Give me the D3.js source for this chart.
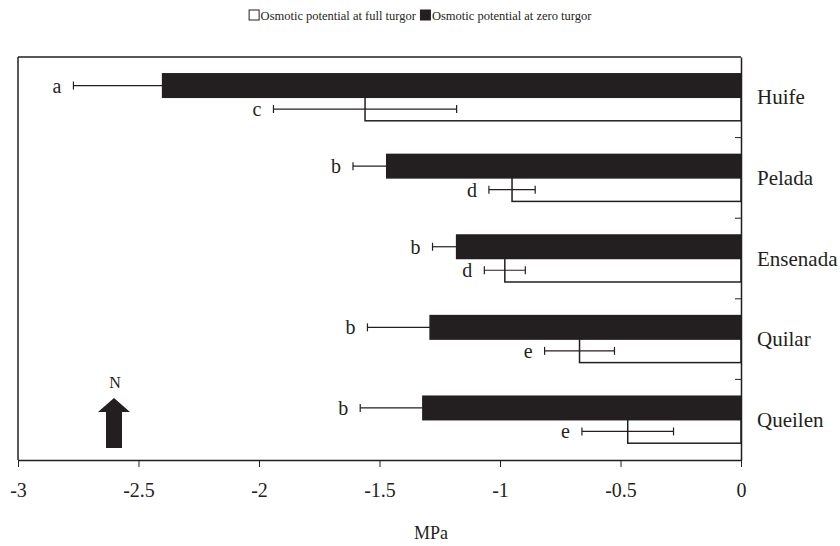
<!DOCTYPE html>
<html><head><meta charset="utf-8">
<script src="https://cdn.jsdelivr.net/npm/d3@7"></script>
<style>
html,body{margin:0;padding:0;background:#fff;}
text{font-family:"Liberation Serif","Times New Roman",serif;fill:#231f20;}
</style></head>
<body><svg id="c" width="840" height="546"></svg>
<script>
// ---- data ----
const categories = ["Huife", "Pelada", "Ensenada", "Quilar", "Queilen"];
const seriesNames = ["Osmotic potential at zero turgor", "Osmotic potential at full turgor"];
const zeroTurgor = [-2.40, -1.47, -1.18, -1.29, -1.32];
const zeroTurgorErr = [0.37, 0.14, 0.10, 0.26, 0.26];
const zeroLetters = ["a", "b", "b", "b", "b"];
const fullTurgor = [-1.56, -0.95, -0.98, -0.67, -0.47];
const fullTurgorErr = [0.38, 0.096, 0.085, 0.145, 0.19];
const fullLetters = ["c", "d", "d", "e", "e"];
const xTicks = [-3, -2.5, -2, -1.5, -1, -0.5, 0];
const legendLabels = ["Osmotic potential at full turgor", "Osmotic potential at zero turgor"];
const xTitle = "MPa";

const ink = "#231f20";
const svg = d3.select("#c");
const L = 18, R = 741, T = 57, B = 460;

const x = d3.scaleLinear().domain([-3, 0]).range([L, R]);
const y0 = d3.scaleBand().domain(categories).range([T, B]).padding(0);
const y1 = d3.scaleBand().domain(seriesNames).range([0, y0.bandwidth()]).paddingInner(0).paddingOuter(0.715);

// frame
svg.append("line").attr("x1", L).attr("x2", R).attr("y1", T).attr("y2", T).attr("stroke", ink).attr("stroke-width", 1.5);
svg.append("line").attr("x1", L).attr("x2", L).attr("y1", T).attr("y2", B).attr("stroke", ink).attr("stroke-width", 1.5);

const rows = categories.map((c, i) => ({
  cat: c,
  items: [
    {s: seriesNames[0], v: zeroTurgor[i], e: zeroTurgorErr[i], l: zeroLetters[i], fill: ink},
    {s: seriesNames[1], v: fullTurgor[i], e: fullTurgorErr[i], l: fullLetters[i], fill: "#fff"}
  ]
}));

const g = svg.selectAll("g.cat").data(rows).join("g").attr("class", "cat")
  .attr("transform", d => `translate(0,${y0(d.cat)})`);

const it = g.selectAll("g.it").data(d => d.items).join("g").attr("class", "it");
it.append("rect")
  .attr("x", d => x(d.v)).attr("width", d => x(0) - x(d.v))
  .attr("y", d => y1(d.s)).attr("height", y1.bandwidth())
  .attr("fill", d => d.fill).attr("stroke", ink).attr("stroke-width", 1.5);

const cy = d => y1(d.s) + y1.bandwidth() / 2;
it.append("line").attr("x1", d => x(d.v - d.e)).attr("x2", d => d.fill === ink ? x(d.v) : x(d.v + d.e))
  .attr("y1", cy).attr("y2", cy).attr("stroke", ink).attr("stroke-width", 1.2);
it.append("line").attr("x1", d => x(d.v - d.e)).attr("x2", d => x(d.v - d.e))
  .attr("y1", d => cy(d) - 4).attr("y2", d => cy(d) + 4).attr("stroke", ink).attr("stroke-width", 1.2);
it.filter(d => d.fill !== ink).append("line").attr("x1", d => x(d.v + d.e)).attr("x2", d => x(d.v + d.e))
  .attr("y1", d => cy(d) - 4).attr("y2", d => cy(d) + 4).attr("stroke", ink).attr("stroke-width", 1.2);
it.append("text").attr("x", d => x(d.v - d.e) - 12).attr("y", d => cy(d) + 7)
  .attr("text-anchor", "end").attr("font-size", 20).text(d => d.l);

// x axis
const xa = svg.append("g").attr("transform", `translate(0,${B})`)
  .call(d3.axisBottom(x).tickValues(xTicks).tickFormat(d => String(d)).tickSize(7).tickSizeOuter(0));
xa.select(".domain").attr("stroke", ink).attr("stroke-width", 1.5);
xa.selectAll(".tick line").attr("stroke", ink).attr("stroke-width", 1);
xa.selectAll(".tick text").attr("y", 37).attr("dy", 0).attr("font-size", 20)
  .attr("font-family", '"Liberation Serif","Times New Roman",serif').attr("fill", ink);

// right y axis (at 0)
const ya = svg.append("g").attr("transform", `translate(${R},0)`)
  .call(d3.axisLeft(y0).tickSize(0).tickFormat(""));
ya.select(".domain").attr("stroke", ink).attr("stroke-width", 1.5);
ya.selectAll(".tick").remove();
const bounds = categories.slice(1).map(c => y0(c));
svg.selectAll("line.yt").data(bounds).join("line").attr("class", "yt")
  .attr("x1", R - 6).attr("x2", R).attr("y1", d => d).attr("y2", d => d).attr("stroke", ink).attr("stroke-width", 1);

svg.selectAll("text.cl").data(categories).join("text").attr("class", "cl")
  .attr("x", R + 16).attr("y", d => y0(d) + y0.bandwidth() / 2 + 7)
  .attr("font-size", 21).text(d => d);

// x title
svg.append("text").attr("x", 431).attr("y", 539).attr("text-anchor", "middle").attr("font-size", 18).text(xTitle);

// legend
const lg = svg.append("g");
let cx = 0;
const fills = ["#fff", ink];
legendLabels.forEach((lab, i) => {
  lg.append("rect").attr("x", cx + 0.5).attr("y", -5).attr("width", 10).attr("height", 10)
    .attr("fill", fills[i]).attr("stroke", ink).attr("stroke-width", 1);
  cx += 12;
  const t = lg.append("text").attr("x", cx).attr("y", 4.5).attr("font-size", 12.5).text(lab);
  cx += t.node().getComputedTextLength() + 4;
});
lg.attr("transform", `translate(${422 - cx / 2},15)`);

// north arrow
svg.append("text").attr("x", 115).attr("y", 388).attr("text-anchor", "middle").attr("font-size", 16).text("N");
svg.append("path").attr("d", "M114,398 L130,412 L122,412 L122,448 L106,448 L106,412 L98,412 Z").attr("fill", ink);
</script></body></html>
